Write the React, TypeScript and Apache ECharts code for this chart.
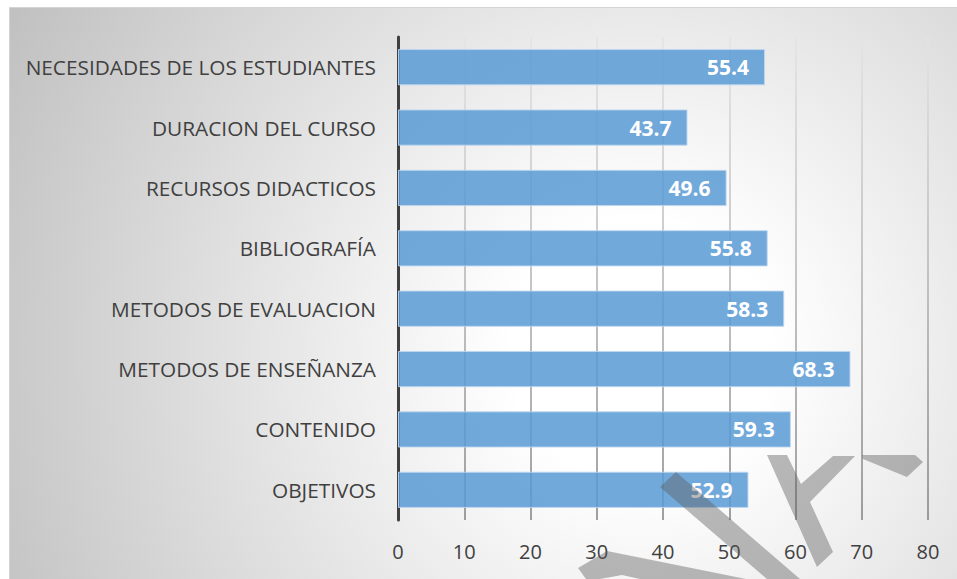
import React, { useEffect, useRef } from "react";
import * as echarts from "echarts";

const categories = [
  "OBJETIVOS",
  "CONTENIDO",
  "METODOS DE ENSEÑANZA",
  "METODOS DE EVALUACION",
  "BIBLIOGRAFÍA",
  "RECURSOS DIDACTICOS",
  "DURACION DEL CURSO",
  "NECESIDADES DE LOS ESTUDIANTES",
];
const values = [52.9, 59.3, 68.3, 58.3, 55.8, 49.6, 43.7, 55.4];
const xMin = 0;
const xMax = 80;
const xInterval = 10;

const FONT = "'Open Sans', 'Noto Sans', sans-serif";
const TEXT = "#404040";
const WM = "rgba(90,90,90,0.42)";

export default function App() {
  const ref = useRef<HTMLDivElement>(null);
  useEffect(() => {
    if (!ref.current) return;
    const chart = echarts.init(ref.current, null, { renderer: "svg" });
    chart.setOption({
      animation: false,
      graphic: [
        {
          type: "rect",
          z: -10,
          silent: true,
          shape: { x: 9.5, y: 7.5, width: 980, height: 600 },
          style: {
            fill: {
              type: "radial",
              x: 640,
              y: 350,
              r: 720,
              global: true,
              colorStops: [
                { offset: 0, color: "#ffffff" },
                { offset: 0.18, color: "#ffffff" },
                { offset: 1, color: "#c0c0c0" },
              ],
            },
            stroke: "#d4d4d4",
            lineWidth: 1,
          },
        },
        {
          type: "polygon",
          z: 100,
          silent: true,
          shape: { points: [[660, 487], [676, 472], [800, 579], [767, 579]] },
          style: { fill: WM },
        },
        {
          type: "polygon",
          z: 100,
          silent: true,
          shape: { points: [[578, 568], [607, 551], [746, 579], [640, 579], [622, 575], [600, 579], [586, 579]] },
          style: { fill: WM },
        },
        {
          type: "polygon",
          z: 100,
          silent: true,
          shape: {
            points: [[767, 455], [787, 455], [801, 484], [833, 456], [855, 456], [810, 502], [833, 552], [817, 567]],
          },
          style: { fill: WM },
        },
        {
          type: "polygon",
          z: 100,
          silent: true,
          shape: { points: [[862, 455], [915, 455], [923, 462], [907, 477], [863, 459]] },
          style: { fill: WM },
        },
      ],
      grid: { left: 398, right: 29, top: 37, bottom: 59, containLabel: false },
      xAxis: {
        type: "value",
        min: xMin,
        max: xMax,
        interval: xInterval,
        axisLine: { show: false },
        axisTick: { show: false },
        axisLabel: { color: TEXT, fontSize: 20, fontFamily: FONT, margin: 21 },
        splitLine: {
          show: true,
          lineStyle: {
            width: 1.5,
            color: {
              type: "linear",
              x: 0,
              y: 37,
              x2: 0,
              y2: 520,
              global: true,
              colorStops: [
                { offset: 0, color: "#e4e4e4" },
                { offset: 1, color: "#808080" },
              ],
            },
          },
        },
      },
      yAxis: {
        type: "category",
        data: categories,
        axisLine: { show: true, lineStyle: { color: "#404040", width: 3 } },
        axisTick: { show: false },
        axisLabel: { color: TEXT, fontSize: 20.8, fontFamily: FONT, margin: 22 },
      },
      series: [
        {
          type: "bar",
          data: values,
          barCategoryGap: "40%",
          itemStyle: {
            color: "rgba(91,155,213,0.86)",
            borderColor: "rgba(190,215,240,0.9)",
            borderWidth: 1,
          },
          label: {
            show: true,
            position: "insideRight",
            distance: 16,
            color: "#ffffff",
            fontWeight: "bold",
            fontSize: 21,
            fontFamily: FONT,
          },
        },
      ],
    });
    return () => chart.dispose();
  }, []);
  return (
    <div
      ref={ref}
      style={{ position: "absolute", left: 0, top: 0, width: 957, height: 579 }}
    />
  );
}
